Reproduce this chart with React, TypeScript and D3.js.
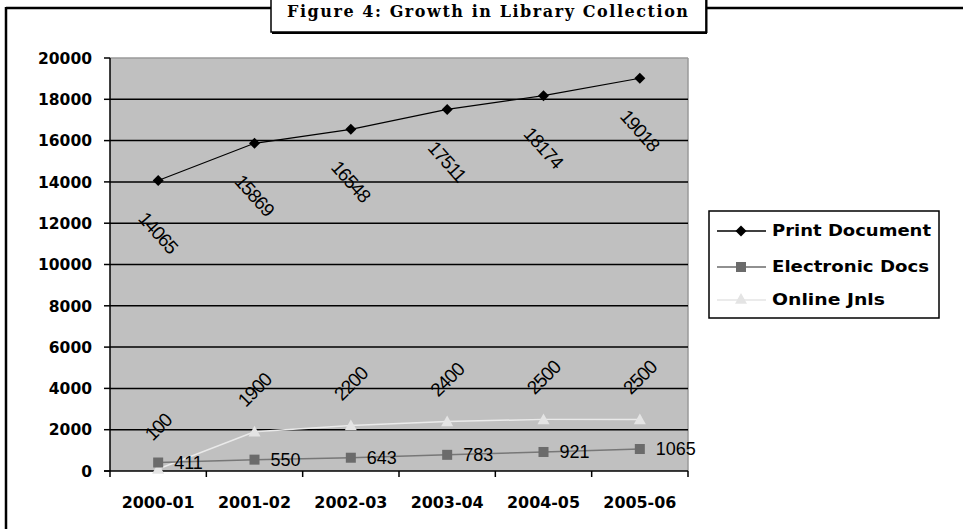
import React from "react";
import * as d3 from "d3";

const categories = ["2000-01", "2001-02", "2002-03", "2003-04", "2004-05", "2005-06"];
const printDocs = [14065, 15869, 16548, 17511, 18174, 19018];
const electronicDocs = [411, 550, 643, 783, 921, 1065];
const onlineJnls = [100, 1900, 2200, 2400, 2500, 2500];
const yTicks = [0, 2000, 4000, 6000, 8000, 10000, 12000, 14000, 16000, 18000, 20000];
const seriesNames = ["Print Document", "Electronic Docs", "Online Jnls"];
const title = "Figure 4: Growth in Library Collection";

const W = 963, H = 529;
const plot = { left: 110, right: 688, top: 58, bottom: 471 };

export default function App() {
  const x = d3.scaleBand<string>().domain(categories).range([plot.left, plot.right]).padding(0);
  const y = d3.scaleLinear().domain([0, 20000]).range([plot.bottom, plot.top]);
  const cx = (c: string) => (x(c) as number) + x.bandwidth() / 2;
  const line = d3.line<number>().x((_, i) => cx(categories[i])).y((d) => y(d));

  const axisFont = "'DejaVu Sans', sans-serif";
  const labelFont = "'Liberation Sans', Arial, sans-serif";

  const diamond = (px: number, py: number, s = 5.5) =>
    `M${px},${py - s}L${px + s},${py}L${px},${py + s}L${px - s},${py}Z`;
  const triangle = (px: number, py: number, s = 6) =>
    `M${px},${py - s}L${px + s},${py + s * 0.8}L${px - s},${py + s * 0.8}Z`;

  const legendRows = [
    { name: seriesNames[0], color: "#000", marker: "diamond", len: 159 },
    { name: seriesNames[1], color: "#6b6b6b", marker: "square", len: 157 },
    { name: seriesNames[2], color: "#e4e4e4", marker: "triangle", len: 113 },
  ];
  const legendY = [231, 267, 300];

  return (
    <svg width={W} height={H} style={{ position: "absolute", left: 0, top: 0, background: "#fff" }}>
      {/* outer frame */}
      <line x1={6} y1={8} x2={W} y2={8} stroke="#000" strokeWidth={2.5} />
      <line x1={6} y1={7} x2={6} y2={H} stroke="#000" strokeWidth={2.5} />
      {/* title box */}
      <rect x={271} y={-4} width={435} height={36} fill="#fff" stroke="#000" strokeWidth={1.5} />
      <line x1={272} y1={33} x2={707} y2={33} stroke="#000" strokeWidth={2} />
      <line x1={706.5} y1={-2} x2={706.5} y2={33} stroke="#000" strokeWidth={2} />
      <text x={287} y={17} fontFamily="'DejaVu Serif', 'Liberation Serif', serif" fontWeight="bold"
        fontSize={16} textLength={401} lengthAdjust="spacing">{title}</text>

      {/* plot background */}
      <rect x={plot.left} y={plot.top} width={plot.right - plot.left} height={plot.bottom - plot.top} fill="#c0c0c0" />
      <line x1={plot.left} y1={plot.top} x2={plot.right} y2={plot.top} stroke="#9a9a9a" strokeWidth={1.5} />
      <line x1={plot.right} y1={plot.top} x2={plot.right} y2={plot.bottom} stroke="#9a9a9a" strokeWidth={1.5} />
      {/* gridlines */}
      {yTicks.filter((t) => t > 0 && t < 20000).map((t) => (
        <line key={t} x1={plot.left} x2={plot.right} y1={y(t)} y2={y(t)} stroke="#000" strokeWidth={1.5} />
      ))}
      {/* axes */}
      <line x1={plot.left} y1={plot.top} x2={plot.left} y2={plot.bottom + 6} stroke="#000" strokeWidth={1.5} />
      <line x1={plot.left - 6} y1={plot.bottom} x2={plot.right} y2={plot.bottom} stroke="#000" strokeWidth={1.5} />
      {yTicks.map((t) => (
        <g key={t}>
          <line x1={plot.left - 6} x2={plot.left} y1={y(t)} y2={y(t)} stroke="#000" strokeWidth={1.5} />
          <text x={92} y={y(t)} dy="0.36em" textAnchor="end" fontFamily={axisFont} fontWeight="bold" fontSize={16}
            textLength={String(t).length * 10.8} lengthAdjust="spacingAndGlyphs">
            {t}
          </text>
        </g>
      ))}
      {categories.map((c) => (
        <g key={c}>
          <line x1={(x(c) as number) + x.bandwidth()} x2={(x(c) as number) + x.bandwidth()} y1={plot.bottom} y2={plot.bottom + 6} stroke="#000" strokeWidth={1.5} />
          <text x={cx(c)} y={502} dy="0.36em" textAnchor="middle" fontFamily={axisFont} fontWeight="bold" fontSize={16}
            textLength={73} lengthAdjust="spacingAndGlyphs">
            {c}
          </text>
        </g>
      ))}

      {/* Online Jnls */}
      <path d={line(onlineJnls) || ""} fill="none" stroke="#eaeaea" strokeWidth={1.5} />
      {onlineJnls.map((v, i) => (
        <path key={i} d={triangle(cx(categories[i]), y(v))} fill="#e4e4e4" />
      ))}
      {/* Electronic Docs */}
      <path d={line(electronicDocs) || ""} fill="none" stroke="#777" strokeWidth={1.5} />
      {electronicDocs.map((v, i) => (
        <rect key={i} x={cx(categories[i]) - 5} y={y(v) - 5} width={10} height={10} fill="#6b6b6b" />
      ))}
      {/* Print Document */}
      <path d={line(printDocs) || ""} fill="none" stroke="#000" strokeWidth={1.2} />
      {printDocs.map((v, i) => (
        <path key={i} d={diamond(cx(categories[i]), y(v))} fill="#000" />
      ))}

      {/* data labels */}
      {printDocs.map((v, i) => (
        <text key={i} transform={`translate(${cx(categories[i])},${y(v) + 52}) rotate(48)`} textAnchor="middle" dy="0.35em"
          fontFamily={labelFont} fontSize={19} letterSpacing={-1}>{v}</text>
      ))}
      {onlineJnls.map((v, i) => (
        <text key={i} transform={`translate(${cx(categories[i])},${y(v) - 42}) rotate(-45)`} textAnchor="middle" dy="0.35em"
          fontFamily={labelFont} fontSize={19} letterSpacing={-1}>{v}</text>
      ))}
      {electronicDocs.map((v, i) => (
        <text key={i} x={cx(categories[i]) + 16} y={y(v) + 6} fontFamily={labelFont} fontSize={18}>{v}</text>
      ))}

      {/* legend */}
      <rect x={709} y={211} width={230} height={107} fill="#fff" stroke="#000" strokeWidth={1.5} />
      {legendRows.map((r, i) => (
        <g key={r.name}>
          <line x1={717} x2={766} y1={legendY[i]} y2={legendY[i]} stroke={r.color} strokeWidth={1.5} />
          {r.marker === "diamond" && <path d={diamond(741, legendY[i])} fill={r.color} />}
          {r.marker === "square" && <rect x={736} y={legendY[i] - 5} width={10} height={10} fill={r.color} />}
          {r.marker === "triangle" && <path d={triangle(741, legendY[i] - 1)} fill={r.color} />}
          <text x={772} y={legendY[i]} dy="0.36em" fontFamily={axisFont} fontWeight="bold" fontSize={15}
            textLength={r.len} lengthAdjust="spacingAndGlyphs">{r.name}</text>
        </g>
      ))}
    </svg>
  );
}
